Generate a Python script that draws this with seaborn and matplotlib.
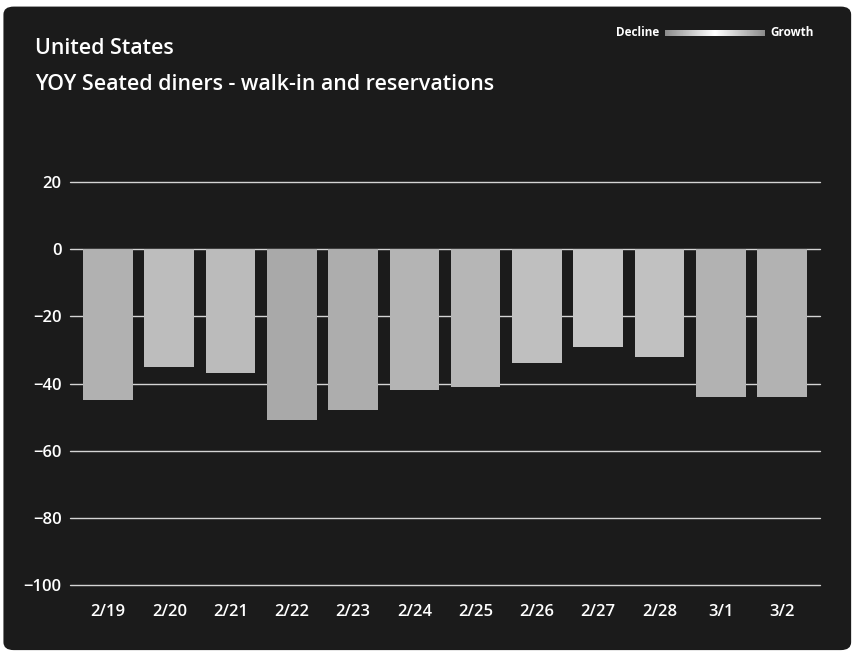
import numpy as np
import pandas as pd
import matplotlib
matplotlib.use("Agg")
import matplotlib.pyplot as plt
import matplotlib.colors as mcolors
from matplotlib.patches import FancyBboxPatch
import seaborn as sns

# Year-over-year change in seated diners (%), by day
dates = ["2/19", "2/20", "2/21", "2/22", "2/23", "2/24",
         "2/25", "2/26", "2/27", "2/28", "3/1", "3/2"]
yoy_change = [-45, -35, -37, -51, -48, -42, -41, -34, -29, -32, -44, -44]
y_ticks = [20, 0, -20, -40, -60, -80, -100]

title_line1 = "United States"
title_line2 = "YOY Seated diners - walk-in and reservations"

sns.set_theme(style="dark")
plt.rcParams["font.family"] = ["Open Sans", "DejaVu Sans"]

BG = "#1b1b1b"
fig = plt.figure(figsize=(8.58, 6.58), dpi=100, facecolor="white")

# dark rounded card behind the chart
card = FancyBboxPatch((0.004, 0.012), 0.988, 0.978,
                      boxstyle="round,pad=0,rounding_size=0.012",
                      transform=fig.transFigure, facecolor=BG,
                      edgecolor="none", zorder=-10)
fig.patches.append(card)

W, H = 858, 658
ax = fig.add_axes([70 / W, 1 - 585 / H, 750 / W, (585 - 182) / H])
ax.set_facecolor("none")

df = pd.DataFrame({"date": dates, "yoy": yoy_change})

# shade bars: deeper declines slightly darker grey
norm = mcolors.Normalize(vmin=-55, vmax=-25)
cmap = mcolors.LinearSegmentedColormap.from_list("greys", ["#a4a4a4", "#cacaca"])
palette = {d: cmap(norm(v)) for d, v in zip(dates, yoy_change)}

sns.barplot(data=df, x="date", y="yoy", hue="date", palette=palette,
            legend=False, width=0.81, ax=ax, saturation=1, zorder=3,
            linewidth=0, edgecolor="none")

ax.set_xlim(-0.62, len(dates) - 1 + 0.62)
ax.set_ylim(-100, 20)
ax.set_yticks(y_ticks)
ax.grid(False)
for t in y_ticks:
    ax.axhline(t, color="#d4d4d4", lw=1.0, zorder=2, clip_on=False)

ax.set_xlabel("")
ax.set_ylabel("")
for s in ax.spines.values():
    s.set_visible(False)
ax.tick_params(axis="y", colors="white", labelsize=12, length=0, pad=6)
ax.tick_params(axis="x", colors="white", labelsize=12, length=0, pad=14)
for lbl in ax.get_xticklabels() + ax.get_yticklabels():
    lbl.set_fontweight("semibold")

# titles
fig.text(35 / W, 1 - 48 / H, title_line1, color="white", fontsize=15.4,
         fontweight="semibold", ha="left", va="center")
fig.text(35 / W, 1 - 84 / H, title_line2, color="white", fontsize=15.4,
         fontweight="semibold", ha="left", va="center")

# colour scale key
fig.text(659 / W, 1 - 33 / H, "Decline", color="white", fontsize=8.5,
         fontweight="bold", ha="right", va="center")
fig.text(770 / W, 1 - 33 / H, "Growth", color="white", fontsize=8.5,
         fontweight="bold", ha="left", va="center")
kax = fig.add_axes([665 / W, 1 - 36 / H, 100 / W, 6 / H])
grad = np.concatenate([np.linspace(0.55, 1, 50), np.linspace(1, 0.55, 50)])
kax.imshow(grad[None, :], cmap="gray", vmin=0, vmax=1, aspect="auto")
kax.axis("off")

fig.savefig("out.png", dpi=100, facecolor="white")
